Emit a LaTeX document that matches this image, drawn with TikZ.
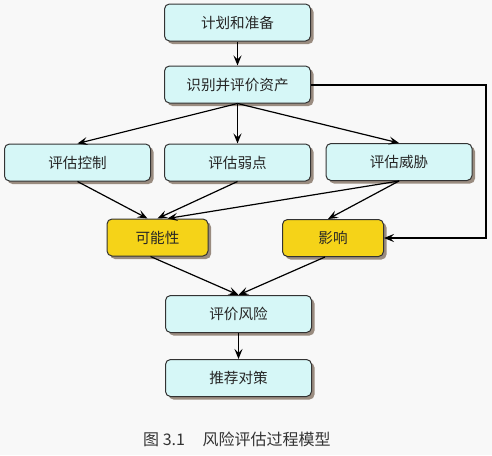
\documentclass[tikz,border=0pt]{standalone}
\usepackage{fontspec}
\newfontfamily\cjk{Noto Sans CJK SC}
\usetikzlibrary{arrows.meta,shadows,calc}
\definecolor{bgcol}{HTML}{F8F8F8}
\definecolor{cyanfill}{HTML}{D6F7F7}
\definecolor{yellowfill}{HTML}{F5D318}
\definecolor{shadowcol}{HTML}{9A8C80}
\definecolor{edgecol}{HTML}{333333}
\begin{document}
\begin{tikzpicture}[x=1pt,y=-1pt,
  boxbase/.style={rectangle, rounded corners=5pt, draw=edgecol, line width=1pt,
    minimum height=37pt, inner sep=0pt, font=\cjk\fontsize{14.6}{16}\selectfont, text=black!85,
    drop shadow={shadow xshift=3pt, shadow yshift=-3pt, fill=shadowcol, opacity=1}},
  cbox/.style={boxbase, fill=cyanfill, minimum width=146pt},
  ybox/.style={boxbase, fill=yellowfill, minimum width=101pt},
  conn/.style={line width=1.2pt, draw=black, -{Stealth[length=10pt,width=8pt,inset=4pt]}}
]
\useasboundingbox[fill=bgcol] (0,0) rectangle (492,455);
\node[cbox] (plan) at (237.5,22.5) {计划和准备};
\node[cbox] (asset) at (237.5,84.5) {识别并评价资产};
\node[cbox] (ctrl) at (77.5,162.5) {评估控制};
\node[cbox] (weak) at (237.5,162.5) {评估弱点};
\node[cbox] (threat) at (399,162) {评估威胁};
\node[ybox] (prob) at (157.5,237.5) {可能性};
\node[ybox] (impact) at (333,238) {影响};
\node[cbox] (risk) at (238.5,314) {评价风险};
\node[cbox] (rec) at (238.5,378) {推荐对策};
\node[font=\cjk\fontsize{16}{18}\selectfont, text=black!80, anchor=west, inner sep=0pt] (cap) at (143,439) {图 3.1\hspace{1.1em}风险评估过程模型};

\coordinate (rc1) at (486,85);
\coordinate (rc2) at (486,238);

\draw[conn] (plan.south) -- (asset.north);
\draw[conn] (asset.south) -- (ctrl.north);
\draw[conn] (asset.south) -- (weak.north);
\draw[conn] (asset.south) -- (threat.north);
\draw[conn] (asset.east |- rc1) -- (rc1) -- (rc2) -- (impact.east);
\draw[conn] (ctrl.south) -- ($(prob.north)+(-10,0)$);
\draw[conn] (weak.south) -- (prob.north);
\draw[conn] (threat.south) -- ($(prob.north)+(10,0)$);
\draw[conn] (threat.south) -- ($(impact.north)+(-5,0)$);
\draw[conn] ($(prob.south)+(-7,0)$) -- (risk.north);
\draw[conn] ($(impact.south)+(-8,0)$) -- (risk.north);
\draw[conn] (risk.south) -- (rec.north);
\end{tikzpicture}
\end{document}
